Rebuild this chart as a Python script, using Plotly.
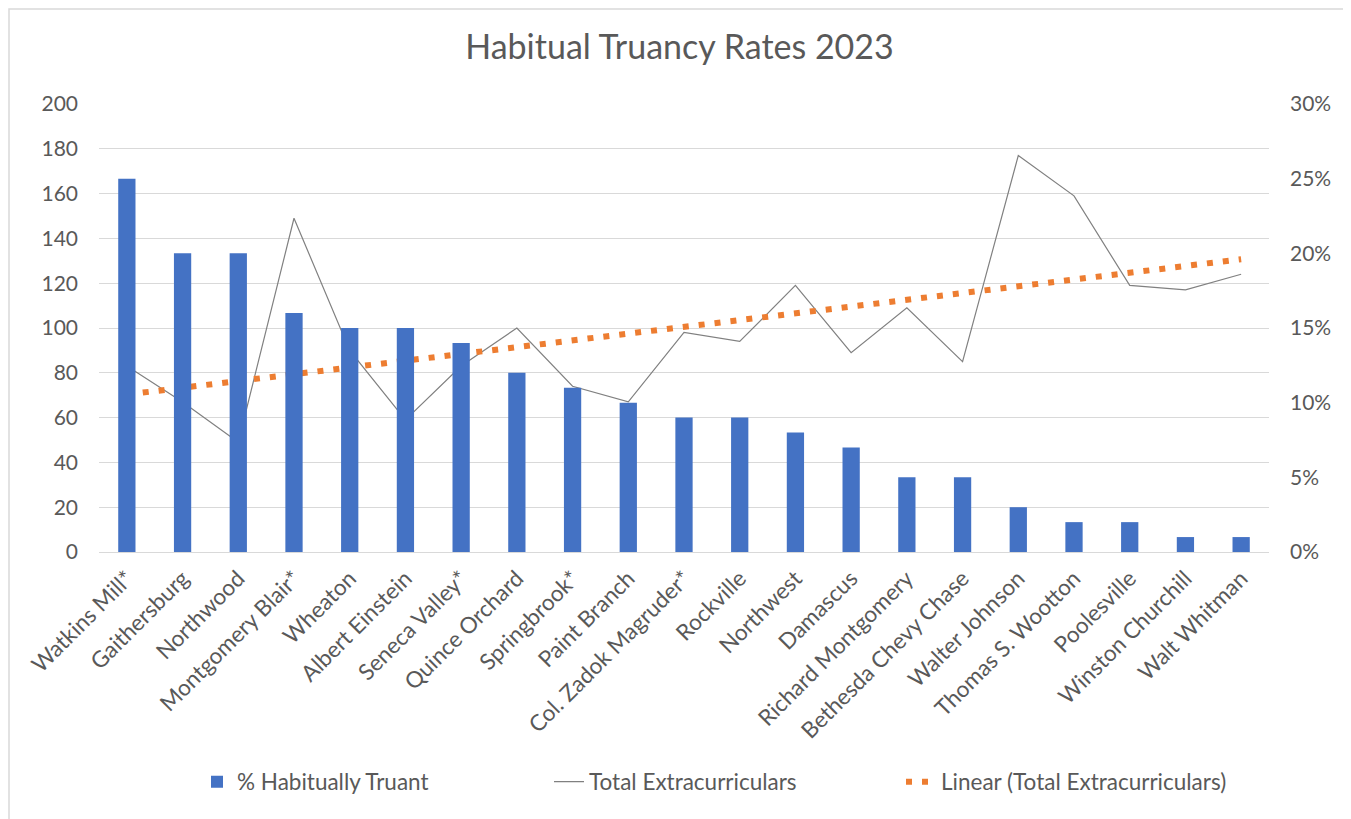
import plotly.graph_objects as go

# schools, in the order shown
schools = [
    "Watkins Mill*", "Gaithersburg", "Northwood", "Montgomery Blair*", "Wheaton",
    "Albert Einstein", "Seneca Valley*", "Quince Orchard", "Springbrook*", "Paint Branch",
    "Col. Zadok Magruder*", "Rockville", "Northwest", "Damascus", "Richard Montgomery",
    "Bethesda Chevy Chase", "Walter Johnson", "Thomas S. Wootton", "Poolesville",
    "Winston Churchill", "Walt Whitman",
]

# % habitually truant (right axis)
truant_pct = [0.25, 0.20, 0.20, 0.16, 0.15, 0.15, 0.14, 0.12, 0.11, 0.10,
              0.09, 0.09, 0.08, 0.07, 0.05, 0.05, 0.03, 0.02, 0.02, 0.01, 0.01]

# total extracurriculars (left axis)
extracurriculars = [83, 67, 49, 149, 90, 59, 83, 100, 74, 67,
                    98, 94, 119, 89, 109, 85, 177, 159, 119, 117, 124]

# linear trendline ends
trend_ends = [70.3, 130.7]

# page body has an 8px margin, so the figure is drawn 8px smaller
OFF = 8
W, H = 1351 - OFF, 819 - OFF
L, T = 99 - OFF, 104 - OFF
R = W - (1269 - OFF)
B = H - (552 - OFF)
FONT = "Lato"
TXT = "#595959"

fig = go.Figure()

fig.add_trace(go.Bar(
    x=schools, y=truant_pct, name="% Habitually Truant", yaxis="y2",
    marker=dict(color="#4472C4", line=dict(width=0)),
))
fig.add_trace(go.Scatter(
    x=schools, y=extracurriculars, name="Total Extracurriculars", mode="lines",
    line=dict(color="#808080", width=1.2),
))
fig.add_trace(go.Scatter(
    x=[schools[0], schools[-1]], y=trend_ends, name="Linear (Total Extracurriculars)",
    mode="lines", line=dict(color="#ED7D31", width=6, dash="6px,10px"),
))

# chart border
pw, ph = W - L - R, H - T - B
fig.add_shape(
    type="rect", xref="paper", yref="paper",
    x0=(1 - L) / pw, x1=(1349 - OFF - L) / pw,
    y0=(H - B - 840) / ph, y1=(H - B - 1) / ph,
    line=dict(color="#d9d9d9", width=1.5), fillcolor="rgba(0,0,0,0)",
)

fig.update_layout(
    width=W, height=H,
    margin=dict(l=L, r=R, t=T, b=B, autoexpand=False),
    paper_bgcolor="white", plot_bgcolor="white",
    font=dict(family=FONT, size=21, color=TXT),
    title=dict(text="Habitual Truancy Rates 2023", x=0.5, xanchor="center",
               y=1 - (47 - OFF) / H, yanchor="middle", font=dict(size=34, color=TXT)),
    bargap=0.69,
    showlegend=True,
    legend=dict(orientation="h", x=0.5 + 41 / pw, xanchor="center",
                y=(H - B - (782 - OFF)) / ph, yanchor="middle",
                font=dict(size=22.5, color=TXT), entrywidth=307,
                traceorder="normal"),
    xaxis=dict(tickangle=-45, showgrid=False, showline=False, ticks="",
               ticklabelstandoff=8, tickfont=dict(size=22.5)),
    yaxis=dict(range=[0, 200], dtick=20, showgrid=True, gridcolor="#d9d9d9",
               gridwidth=1.3, zeroline=True, zerolinecolor="#d9d9d9", zerolinewidth=1.3,
               showline=False, ticks="", ticklabelstandoff=20),
    yaxis2=dict(range=[0, 0.30], dtick=0.05, tickformat=".0%", overlaying="y",
                side="right", showgrid=False, zeroline=False, showline=False,
                ticks="", ticklabelstandoff=20),
)

fig.write_html("out.html")
